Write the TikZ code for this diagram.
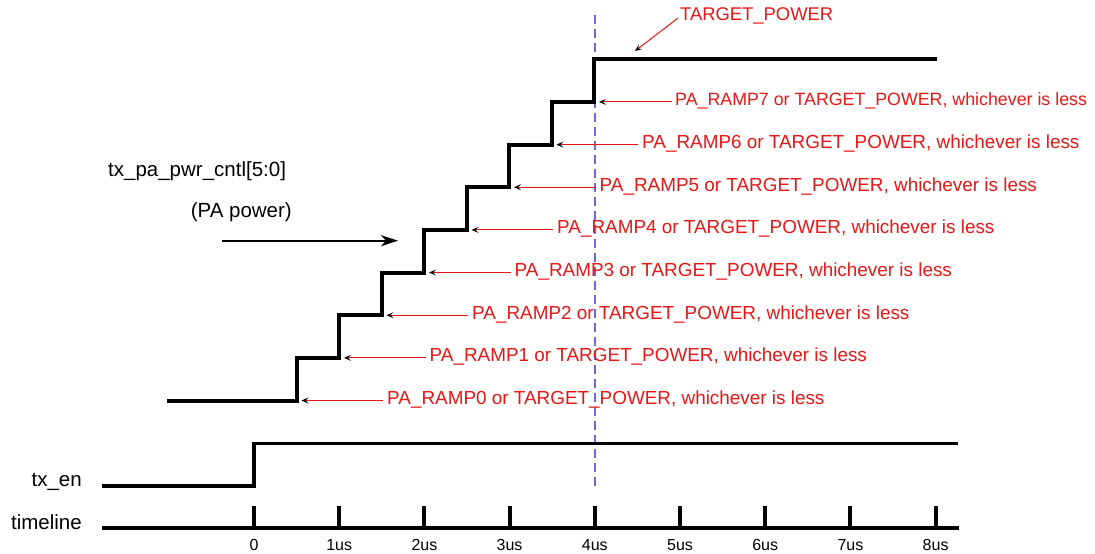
\documentclass[tikz,border=0pt]{standalone}
\usepackage{fontspec}
\setmainfont{Liberation Sans}
\usetikzlibrary{arrows.meta,calc}
\definecolor{rampred}{RGB}{232,22,22}
\definecolor{dashblue}{RGB}{105,105,232}
\begin{document}
\begin{tikzpicture}[x=1pt,y=-1pt,
  sig/.style={line width=4pt},
  redlbl/.style={text=rampred,font=\fontsize{18.9}{21}\selectfont,inner sep=0pt,anchor=base west},
  blk/.style={font=\fontsize{20.5}{23}\selectfont,inner sep=0pt},
  ticklbl/.style={font=\fontsize{16}{18}\selectfont,inner sep=0pt,anchor=base},
  redarrow/.style={draw=rampred,line width=1pt,-{Stealth[black,length=7pt,width=6pt,inset=3pt]}},
  bigarrow/.style={draw=black,line width=2pt,-{Stealth[length=17pt,width=11pt,inset=5pt]}},
  guide/.style={draw=dashblue,line width=1.3pt,dash pattern=on 9pt off 5pt}]
\useasboundingbox (0,0) rectangle (1095,554);

% corners of the staircase
\foreach \i in {0,...,7}
  \coordinate (c\i) at ({296.5+42.5*\i},{400.5-42.65*\i});
\coordinate (s0) at (167,400.5);
\coordinate (top) at (594,59.3);
\coordinate (topend) at (937,59.3);

% guide line at 4us
\coordinate (g1) at (595,15);
\coordinate (g2) at (595,487);
\draw[guide] (g1) -- (g2);

% staircase
\draw[sig] (s0) -- (c0) |- (c1) |- (c2) |- (c3) |- (c4) |- (c5) |- (c6) |- (c7) -- (top) -- (topend);

% labels of the ramp steps
\foreach \i/\x in {0/387,1/429.5,2/472,3/514.5,4/557,5/599.5,6/642}{
  \node[redlbl] (r\i) at ({\x},{404.5-42.65*\i}) {PA\_RAMP\i{} or TARGET\_POWER, whichever is less};
  \draw[redarrow] ($(r\i.west |- c\i)+(-4,0)$) -- ($(c\i)+(5,0)$);
}
\node[redlbl,font=\fontsize{17.8}{20}\selectfont] (r7) at (675,{404.5-42.65*7}) {PA\_RAMP7 or TARGET\_POWER, whichever is less};
\draw[redarrow] ($(r7.west |- c7)+(-3,0)$) -- ($(c7)+(5,0)$);

% TARGET_POWER
\node[redlbl,font=\fontsize{18.4}{20}\selectfont] (tp) at (680,20.7) {TARGET\_POWER};
\coordinate (tpt) at (635,51);
\draw[redarrow] ($(tp.west)+(-2,2)$) -- (tpt);

% signal name
\node[blk,anchor=base west] (sname) at (108,176) {tx\_pa\_pwr\_cntl[5:0]};
\node[blk,anchor=base east] (sdesc) at (292,217.3) {(PA power)};
\coordinate (pa1) at (222,240.7);
\coordinate (pa2) at (398,240.7);
\draw[bigarrow] (pa1) -- (pa2);

% tx_en
\node[blk,anchor=base east] (txen) at (82,486) {tx\_en};
\coordinate (e0) at (102,486);
\coordinate (e1) at (254,486);
\coordinate (e2) at (254,443.3);
\coordinate (e3) at (958,443.3);
\draw[line width=3.5pt] (e0) -- (e1) -- (e2) -- (e3);

% timeline
\node[blk,anchor=base east] (tl) at (82,529.3) {timeline};
\coordinate (t0) at (102,528.3);
\coordinate (t1) at (959,528.3);
\draw[sig] (t0) -- (t1);
\foreach \k/\lab in {0/0,1/1us,2/2us,3/3us,4/4us,5/5us,6/6us,7/7us,8/8us}{
  \coordinate (tk\k) at ({254+85.2*\k},506);
  \draw[sig] (tk\k) -- (tk\k |- t0);
  \node[ticklbl] (tl\k) at ({254+85.2*\k},550) {\lab};
}
\end{tikzpicture}
\end{document}
